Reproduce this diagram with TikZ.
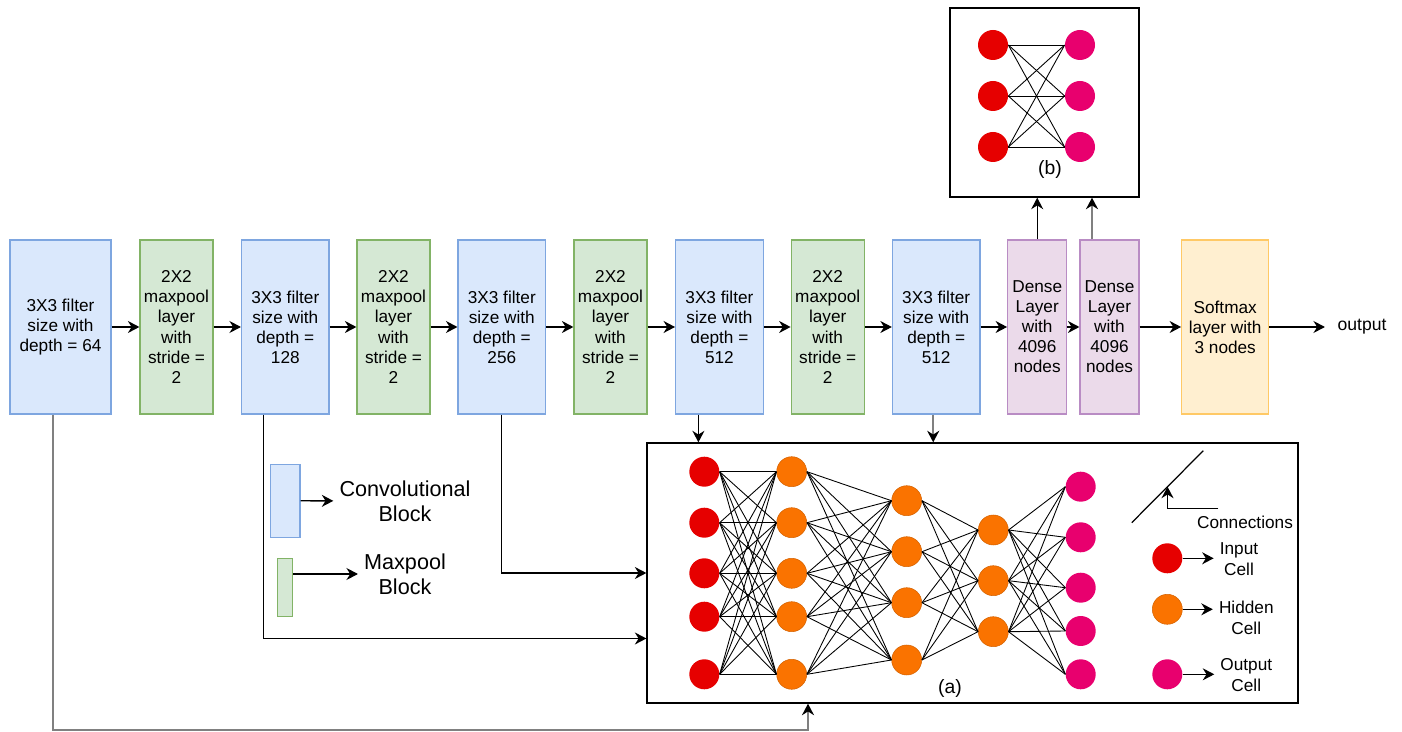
\documentclass[tikz,border=0pt]{standalone}
\usepackage{fontspec}
\setmainfont{Liberation Sans}
\usepackage{tikz}
\usetikzlibrary{arrows.meta,calc}

\definecolor{convfill}{HTML}{DAE8FC}
\definecolor{convline}{HTML}{7EA6E0}
\definecolor{poolfill}{HTML}{D5E8D4}
\definecolor{poolline}{HTML}{82B366}
\definecolor{densefill}{HTML}{EBDAEA}
\definecolor{denseline}{HTML}{B98CC4}
\definecolor{softfill}{HTML}{FFEFD0}
\definecolor{softline}{HTML}{FFC966}
\definecolor{cellred}{HTML}{E60000}
\definecolor{cellorange}{HTML}{FA7300}
\definecolor{cellpink}{HTML}{E8006E}

\begin{document}
\begin{tikzpicture}[x = 0.02cm, y = -0.02cm,
	arr/.style = {-{Stealth[length = 2.3mm, width = 2.4mm]}, line width = 0.75pt},
	grayarr/.style = {-{Stealth[length = 2.3mm, width = 2.4mm, black]}, line width = 1.1pt, draw = black!50},
	block/.style = {draw, line width = 0.7pt, minimum height = 3.48cm, align = center, inner sep = 1pt, font = \fontsize{9.8}{11.4}\selectfont},
	conv/.style = {block, draw = convline, fill = convfill, minimum width = 1.75cm},
	pool/.style = {block, draw = poolline, fill = poolfill, minimum width = 1.46cm},
	dense/.style = {block, draw = denseline, fill = densefill, minimum width = 1.18cm},
	soft/.style = {block, draw = softline, fill = softfill, minimum width = 1.74cm},
	cell/.style = {circle, inner sep = 0, minimum size = 0.6cm},
	incell/.style = {cell, fill = cellred},
	hidcell/.style = {cell, fill = cellorange, draw = cellorange!85!black, line width = 0.3pt},
	outcell/.style = {cell, fill = cellpink},
	conn/.style = {line width = 0.5pt},
	legtext/.style = {font = \fontsize{9.8}{12}\selectfont, align = center},
	bigtext/.style = {font = \fontsize{12.3}{14.2}\selectfont, align = center}
]
\useasboundingbox (0,0) rectangle (1402,732);

\node[conv, minimum width = 2.02cm] (c1) at (60.5,327) {3X3 filter\\size with\\depth = 64};
\foreach \n/\x/\d in {2/285.3/128, 3/501.8/256, 4/719.4/512, 5/936.2/512}
	\node[conv] (c\n) at (\x,327) {3X3 filter\\size with\\depth =\\\d};
\foreach \n/\x in {1/176.5, 2/393.5, 3/610.5, 4/827.7}
	\node[pool] (m\n) at (\x,327) {2X2\\maxpool\\layer\\with\\stride =\\2};
\node[dense] (d1) at (1037.2,327) {Dense\\Layer\\with\\4096\\nodes};
\node[dense] (d2) at (1109.5,327) {Dense\\Layer\\with\\4096\\nodes};
\node[soft] (sm) at (1225.2,327) {Softmax\\layer with\\3 nodes};
\node[font = \fontsize{10}{12}\selectfont, inner xsep = 7pt] (output) at (1362,327) {output};

\foreach \a/\b in {c1/m1, m1/c2, c2/m2, m2/c3, c3/m3, m3/c4, c4/m4, m4/c5, c5/d1, d1/d2, d2/sm, sm/output}
	\draw[arr] (\a) -- (\b);

\node[draw, line width = 0.8pt, minimum width = 3.78cm, minimum height = 3.78cm] (boxb) at (1044.5,102.5) {};
\foreach \y [count = \i] in {45,96,147} {
	\node[incell] (bi\i) at (993,\y) {};
	\node[outcell] (bo\i) at (1080,\y) {};
}
\foreach \i in {1,2,3}
	\foreach \j in {1,2,3}
		\draw[conn] (bi\i.east) -- (bo\j.west);
\node[font = \fontsize{11}{13}\selectfont] (blab) at (1050,170) {(b)};

\draw[arr] (d1.north) -- (d1.north |- boxb.south);
\draw[grayarr] ([xshift = -0.35cm]d2.north) -- ([xshift = -0.35cm]d2.north |- boxb.south);

\node[draw, line width = 0.8pt, minimum width = 13.02cm, minimum height = 5.2cm] (boxa) at (972.5,573) {};

\foreach \y [count = \i] in {471.7,522.7,573.3,616.7,674.3} {
	\node[incell] (in\i) at (704.3,\y) {};
	\node[hidcell] (ha\i) at (791.7,\y) {};
}
\foreach \y [count = \i] in {500.7,551.7,602.7,660}
	\node[hidcell] (hb\i) at (906.7,\y) {};
\foreach \y [count = \i] in {530,580.7,631.7}
	\node[hidcell] (hc\i) at (993.3,\y) {};
\foreach \y [count = \i] in {486.7,537.3,587.7,631,674.3}
	\node[outcell] (oc\i) at (1080.7,\y) {};

\foreach \i in {1,...,5}
	\foreach \j in {1,...,5}
		\draw[conn] (in\i.east) -- (ha\j.west);
\foreach \i in {1,...,5}
	\foreach \j in {1,...,4}
		\draw[conn] (ha\i.east) -- (hb\j.west);
\foreach \i in {1,...,4}
	\foreach \j in {1,2,3}
		\draw[conn] (hb\i.east) -- (hc\j.west);
\foreach \i in {1,2,3}
	\foreach \j in {1,...,5}
		\draw[conn] (hc\i.east) -- (oc\j.west);

\node[font = \fontsize{11}{13}\selectfont] (alab) at (950,688) {(a)};

\coordinate (conna) at (1131.7,522.7);
\coordinate (connb) at (1203.3,450.7);
\coordinate (connc) at (1218.3,508.3);
\draw[line width = 0.7pt] (conna) -- (connb);
\draw[arr] (connc) -| ($(conna)!0.5!(connb)$);
\node[legtext] (tconn) at (1245,522.7) {Connections};

\node[incell] (lin) at (1167.3,558.3) {};
\node[legtext] (tin) at (1239,559) {Input\\Cell};
\draw[arr] (lin.east) -- (lin.east -| tin.west);
\node[hidcell] (lhid) at (1167.3,609.3) {};
\node[legtext] (thid) at (1246.3,618) {Hidden\\Cell};
\draw[arr] (lhid.east) -- (lhid.east -| thid.west);
\node[outcell] (lout) at (1167.3,674.3) {};
\node[legtext] (tout) at (1246.3,675) {Output\\Cell};
\draw[arr] (lout.east) -- (lout.east -| tout.west);

\node[draw = convline, fill = convfill, line width = 0.7pt, minimum width = 0.59cm, minimum height = 1.46cm, inner sep = 0] (lconv) at (285.3,500.8) {};
\node[bigtext] (tconv) at (405,501) {Convolutional\\Block};
\draw[arr] (lconv) -- (tconv);
\node[draw = poolline, fill = poolfill, line width = 0.7pt, minimum width = 0.3cm, minimum height = 1.17cm, inner sep = 0] (lpool) at (285.2,587.5) {};
\node[bigtext] (tpool) at (405,574) {Maxpool\\Block};
\draw[arr] (lpool.east |- tpool) -- (tpool);

\draw[arr] ([xshift = -0.44cm]c2.south) |- ([yshift = -1.31cm]boxa.west);
\draw[arr] (c3.south) |- (boxa.west);
\draw[arr] ([xshift = -0.42cm]c4.south) -- ([xshift = -0.42cm]c4.south |- boxa.north);
\draw[grayarr] ([xshift = -0.06cm]c5.south) -- ([xshift = -0.06cm]c5.south |- boxa.north);
\coordinate (bend) at (808,730);
\draw[grayarr] ([xshift = -0.15cm]c1.south) |- (bend) -- (bend |- boxa.south);
\end{tikzpicture}
\end{document}
